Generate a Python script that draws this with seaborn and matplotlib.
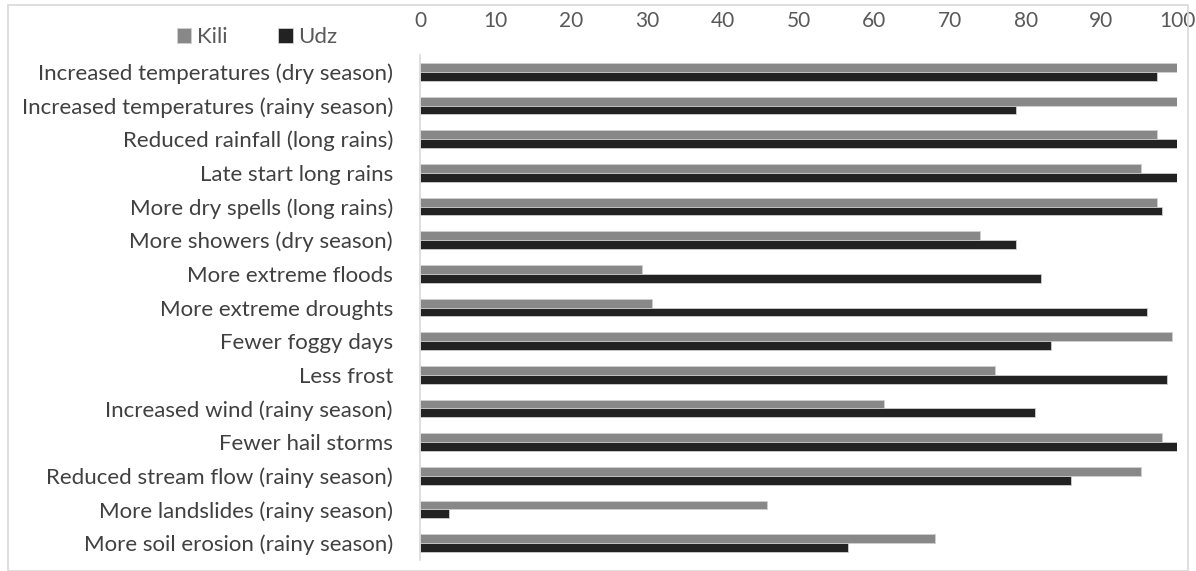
import matplotlib
matplotlib.use('Agg')
import matplotlib.pyplot as plt
import pandas as pd
import seaborn as sns

# perceived climate changes (% of respondents)
categories = [
    'Increased temperatures (dry season)',
    'Increased temperatures (rainy season)',
    'Reduced rainfall (long rains)',
    'Late start long rains',
    'More dry spells (long rains)',
    'More showers (dry season)',
    'More extreme floods',
    'More extreme droughts',
    'Fewer foggy days',
    'Less frost',
    'Increased wind (rainy season)',
    'Fewer hail storms',
    'Reduced stream flow (rainy season)',
    'More landslides (rainy season)',
    'More soil erosion (rainy season)',
]
kili = [100, 100, 97.3, 95.3, 97.3, 74.0, 29.3, 30.6, 99.4, 76.0, 61.3, 98.0, 95.3, 45.9, 68.0]
udz = [97.3, 78.7, 100, 100, 98.0, 78.7, 82.0, 96.0, 83.3, 98.7, 81.3, 100, 86.0, 3.8, 56.6]
ticks = [0, 10, 20, 30, 40, 50, 60, 70, 80, 90, 100]

df = pd.DataFrame({'category': categories * 2,
                   'value': kili + udz,
                   'site': ['Kili'] * len(kili) + ['Udz'] * len(udz)})

sns.set_style('white')
plt.rcParams['font.family'] = ['Lato', 'DejaVu Sans']

fig = plt.figure(figsize=(11.96, 5.71), dpi=100)
ax = fig.add_axes([420 / 1196, 11 / 571, 757 / 1196, 505 / 571])

sns.barplot(data=df, y='category', x='value', hue='site', orient='h',
            palette={'Kili': '#888888', 'Udz': '#222222'}, width=0.52,
            edgecolor='#cfcfcf', linewidth=0.6, ax=ax)

ax.set_xlim(0, 100)
ax.set_ylim(14.5, -0.5)
ax.set_xticks(ticks)
ax.xaxis.tick_top()
ax.tick_params(axis='x', length=0, pad=17, labelsize=15, labelcolor='#595959')
ax.tick_params(axis='y', length=0, pad=19.5, labelsize=16, labelcolor='#404040')
ax.set_xlabel('')
ax.set_ylabel('')
for s in ['top', 'right', 'bottom']:
    ax.spines[s].set_visible(False)
ax.spines['left'].set_color('#d9d9d9')
ax.spines['left'].set_linewidth(1.2)

leg = ax.legend(loc='center', bbox_to_anchor=(257 / 1196, 1 - 37 / 571),
                bbox_transform=fig.transFigure, ncol=2, frameon=False,
                fontsize=16, handlelength=0.64, handleheight=0.64,
                columnspacing=2.3, handletextpad=0.23)
for t in leg.get_texts():
    t.set_color('#595959')

# light chart-area border
fig.patches.append(plt.Rectangle((8 / 1196, 0), 1 - 16 / 1196, 1 - 5 / 571,
                                 transform=fig.transFigure, fill=False,
                                 edgecolor='#d9d9d9', linewidth=1.2))

fig.savefig('out.png', dpi=100)
